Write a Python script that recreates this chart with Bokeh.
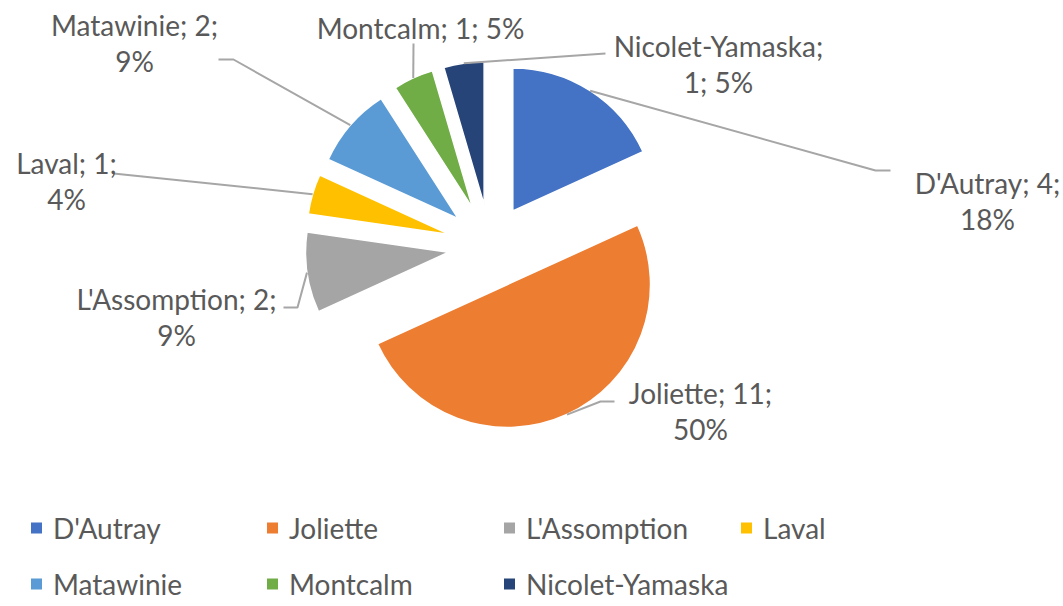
import math
from bokeh.plotting import figure
from bokeh.models import Range1d, ColumnDataSource
from bokeh.embed import file_html
from bokeh.resources import INLINE
from bokeh.core.properties import value

# ---------------- data ----------------
categories = ["D'Autray", "Joliette", "L'Assomption", "Laval", "Matawinie", "Montcalm", "Nicolet-Yamaska"]
counts = [4, 11, 2, 1, 2, 1, 1]
percents = [18, 50, 9, 4, 9, 5, 5]
colors = ["#4472C4", "#ED7D31", "#A5A5A5", "#FFC000", "#5B9BD5", "#70AD47", "#264478"]

# ---------------- layout (page pixels) ----------------
W, H = 1063, 606
CX, CY = 489.6, 245.8          # pie centre on page
R = 143                        # slice radius
EXPLODE = 42                   # explosion distance
FONT = "Lato"
FSIZE = "28px"
TXT = "#595959"
LEAD = "#A6A6A6"
LINE_GAP = 36
TEXT_DY = -10                  # baseline correction

label_parts_first_line = [2, 2, 2, 2, 2, 3, 1]
label_cx = [987, 700, 176, 66, 134, 420, 718]
label_base = [192, 402, 308, 172, 34, 37, 55]
leader_pts = [
    [(875, 170), (890, 170)],
    [(600, 401), (614, 401)],
    [(297, 307), (283, 307)],
    [(113, 173)],
    [(233, 59), (218, 59)],
    [(413, 43)],
    [(605, 53)],
]
legend_sq_x = [36, 272, 509, 746, 36, 272, 509]
legend_row = [0, 0, 0, 0, 1, 1, 1]
legend_sq_y = [527.5, 583.5]
legend_base = [537, 593]


def px(X):
    return X - CX


def py(Y):
    return CY - Y


p = figure(width=W, height=H, output_backend="svg", toolbar_location=None,
           x_range=Range1d(px(0), px(W)), y_range=Range1d(py(H), py(0)),
           x_axis_type=None, y_axis_type=None, min_border=0)
p.min_border_left = p.min_border_right = p.min_border_top = p.min_border_bottom = 0
p.outline_line_color = None
p.grid.visible = False
p.background_fill_color = "white"
p.border_fill_color = "white"

total = float(sum(counts))
cum = 0.0
wx, wy, sa, ea, mids = [], [], [], [], []
for c in counts:
    t0 = cum / total * 2 * math.pi          # clockwise from top
    t1 = (cum + c) / total * 2 * math.pi
    cum += c
    phi = (t0 + t1) / 2
    wx.append(EXPLODE * math.sin(phi))
    wy.append(EXPLODE * math.cos(phi))
    sa.append(math.pi / 2 - t1)
    ea.append(math.pi / 2 - t0)
    mids.append(((EXPLODE + R) * math.sin(phi), (EXPLODE + R) * math.cos(phi)))

src = ColumnDataSource(dict(x=wx, y=wy, start=sa, end=ea, color=colors, cat=categories))
p.wedge(x="x", y="y", radius=R, start_angle="start", end_angle="end",
        fill_color="color", line_color="white", line_width=1.5, source=src)

# leader lines
for i in range(len(categories)):
    xs = [mids[i][0]] + [px(a) for a, b in leader_pts[i]]
    ys = [mids[i][1]] + [py(b) for a, b in leader_pts[i]]
    p.line(xs, ys, line_color=LEAD, line_width=2)

# data labels
tx, ty, tt = [], [], []
for i, cat in enumerate(categories):
    parts = [cat, str(counts[i]), f"{percents[i]}%"]
    k = label_parts_first_line[i]
    if k >= 3:
        lines = ["; ".join(parts)]
    else:
        lines = ["; ".join(parts[:k]) + ";", "; ".join(parts[k:])]
    for j, ln in enumerate(lines):
        tx.append(px(label_cx[i]))
        ty.append(py(label_base[i] + j * LINE_GAP + TEXT_DY))
        tt.append(ln)
p.text(x=tx, y=ty, text=tt, text_align="center", text_baseline="alphabetic",
       text_font=value(FONT), text_font_size=FSIZE, text_color=TXT)

# legend
lx = [px(v) for v in legend_sq_x]
ly = [py(legend_sq_y[r]) for r in legend_row]
p.rect(x=lx, y=ly, width=11, height=11, fill_color=colors, line_color=None)
p.text(x=[px(v + 16.5) for v in legend_sq_x], y=[py(legend_base[r] + TEXT_DY) for r in legend_row],
       text=categories, text_align="left", text_baseline="alphabetic",
       text_font=value(FONT), text_font_size=FSIZE, text_color=TXT)

open("out.html", "w").write(file_html(p, INLINE))
